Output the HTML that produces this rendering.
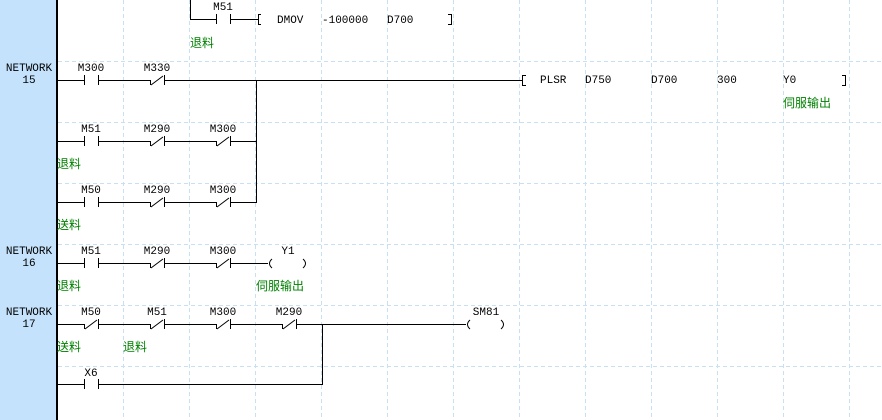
<!DOCTYPE html>
<html><head><meta charset="utf-8"><style>
html,body{margin:0;padding:0;background:#fff;width:882px;height:420px;overflow:hidden}
svg{display:block}
.t{font-family:"Liberation Mono","DejaVu Sans Mono",monospace;font-size:11px;fill:#000}
.c{font-family:"Liberation Sans","Noto Sans CJK SC",sans-serif;font-size:12px;fill:#008000}
</style></head><body>
<svg width="882" height="420" xmlns="http://www.w3.org/2000/svg">
<rect x="0" y="0" width="56" height="420" fill="#c4e2fb"/>
<rect x="56" y="0" width="2" height="420" fill="#000"/>
<g stroke="#c8e0f4" stroke-width="1" stroke-dasharray="4,3" shape-rendering="crispEdges">
<line x1="123.5" y1="0" x2="123.5" y2="420"/><line x1="189.5" y1="0" x2="189.5" y2="420"/>
<line x1="255.5" y1="0" x2="255.5" y2="420"/><line x1="321.5" y1="0" x2="321.5" y2="420"/>
<line x1="387.5" y1="0" x2="387.5" y2="420"/><line x1="453.5" y1="0" x2="453.5" y2="420"/>
<line x1="519.5" y1="0" x2="519.5" y2="420"/><line x1="585.5" y1="0" x2="585.5" y2="420"/>
<line x1="651.5" y1="0" x2="651.5" y2="420"/><line x1="717.5" y1="0" x2="717.5" y2="420"/>
<line x1="783.5" y1="0" x2="783.5" y2="420"/><line x1="849.5" y1="0" x2="849.5" y2="420"/>
<line x1="58" y1="61.5" x2="882" y2="61.5"/><line x1="58" y1="122.5" x2="882" y2="122.5"/>
<line x1="58" y1="183.5" x2="882" y2="183.5"/><line x1="58" y1="244.5" x2="882" y2="244.5"/>
<line x1="58" y1="305.5" x2="882" y2="305.5"/><line x1="58" y1="366.5" x2="882" y2="366.5"/>
</g>
<g stroke="#000" stroke-width="1" fill="none" shape-rendering="crispEdges">
<!-- top rung -->
<path d="M190.5 0 V19.5 H216.5 M216.5 14 V24 M230.5 14 V24 M230.5 19.5 H258 M258.5 14 V25 M258 14.5 H261 M258 24.5 H261"/>
<path d="M451.5 14 V25 M448 14.5 H451 M448 24.5 H451"/>
<!-- network 15 row 1 -->
<path d="M58 80.5 H84.5 M84.5 75 V85 M98.5 75 V85 M98.5 80.5 H150.5 M150.5 80 V85 M164.5 75 V85 M164.5 80.5 H522.5 M522.5 75 V86 M522 75.5 H526 M522 85.5 H526"/>
<path d="M845.5 75 V86 M842 75.5 H845 M842 85.5 H845"/>
<!-- row 2 -->
<path d="M58 141.5 H84.5 M84.5 136 V146 M98.5 136 V146 M98.5 141.5 H150.5 M150.5 141 V146 M164.5 136 V146 M164.5 141.5 H216.5 M216.5 141 V146 M230.5 136 V146 M230.5 141.5 H256.5"/>
<!-- row 3 -->
<path d="M58 202.5 H84.5 M84.5 197 V207 M98.5 197 V207 M98.5 202.5 H150.5 M150.5 202 V207 M164.5 197 V207 M164.5 202.5 H216.5 M216.5 202 V207 M230.5 197 V207 M230.5 202.5 H256.5"/>
<path d="M256.5 80 V203"/>
<!-- network 16 -->
<path d="M58 263.5 H84.5 M84.5 258 V268 M98.5 258 V268 M98.5 263.5 H150.5 M150.5 263 V268 M164.5 258 V268 M164.5 263.5 H216.5 M216.5 263 V268 M230.5 258 V268 M230.5 263.5 H268"/>
<!-- network 17 -->
<path d="M58 324.5 H84.5 M84.5 324 V329 M98.5 319 V329 M98.5 324.5 H150.5 M150.5 324 V329 M164.5 319 V329 M164.5 324.5 H216.5 M216.5 324 V329 M230.5 319 V329 M230.5 324.5 H282.5 M282.5 324 V329 M296.5 319 V329 M296.5 324.5 H466"/>
<path d="M58 384.5 H84.5 M84.5 379 V389 M98.5 379 V389 M98.5 384.5 H322.5 M322.5 324 V385"/>
</g>
<g stroke="#000" stroke-width="1" fill="none">
<path d="M151 85 L163 76 M151 146 L163 137 M217 146 L229 137 M151 207 L163 198 M217 207 L229 198 M151 268 L163 259 M217 268 L229 259"/>
<path d="M85 329 L97 320 M151 329 L163 320 M217 329 L229 320 M283 329 L295 320"/>
<path d="M272 259 Q267 263.5 272 268 M303 259 Q308 263.5 303 268"/>
<path d="M470 320 Q465 324.5 470 329 M501 320 Q506 324.5 501 329"/>
</g>
<g class="t">
<text x="29" y="71" text-anchor="middle">NETWORK</text><text x="29" y="83" text-anchor="middle">15</text>
<text x="29" y="254" text-anchor="middle">NETWORK</text><text x="29" y="266" text-anchor="middle">16</text>
<text x="29" y="315" text-anchor="middle">NETWORK</text><text x="29" y="327" text-anchor="middle">17</text>
<text x="223" y="10" text-anchor="middle">M51</text>
<text x="277" y="23">DMOV</text><text x="322" y="23">-100000</text><text x="387" y="23">D700</text>
<text x="91" y="71" text-anchor="middle">M300</text><text x="157" y="71" text-anchor="middle">M330</text>
<text x="540" y="83">PLSR</text><text x="585" y="83">D750</text><text x="651" y="83">D700</text><text x="717" y="83">300</text><text x="783" y="83">Y0</text>
<text x="91" y="132" text-anchor="middle">M51</text><text x="157" y="132" text-anchor="middle">M290</text><text x="223" y="132" text-anchor="middle">M300</text>
<text x="91" y="193" text-anchor="middle">M50</text><text x="157" y="193" text-anchor="middle">M290</text><text x="223" y="193" text-anchor="middle">M300</text>
<text x="91" y="254" text-anchor="middle">M51</text><text x="157" y="254" text-anchor="middle">M290</text><text x="223" y="254" text-anchor="middle">M300</text><text x="288" y="254" text-anchor="middle">Y1</text>
<text x="91" y="315" text-anchor="middle">M50</text><text x="157" y="315" text-anchor="middle">M51</text><text x="223" y="315" text-anchor="middle">M300</text><text x="289" y="315" text-anchor="middle">M290</text><text x="486" y="315" text-anchor="middle">SM81</text>
<text x="91" y="376" text-anchor="middle">X6</text>
</g>
<g class="c">
<text x="190" y="47">退料</text>
<text x="783" y="107">伺服输出</text>
<text x="57" y="168">退料</text>
<text x="57" y="229">送料</text>
<text x="57" y="290">退料</text>
<text x="256" y="290">伺服输出</text>
<text x="57" y="351">送料</text>
<text x="123" y="351">退料</text>
</g>
</svg>
</body></html>
